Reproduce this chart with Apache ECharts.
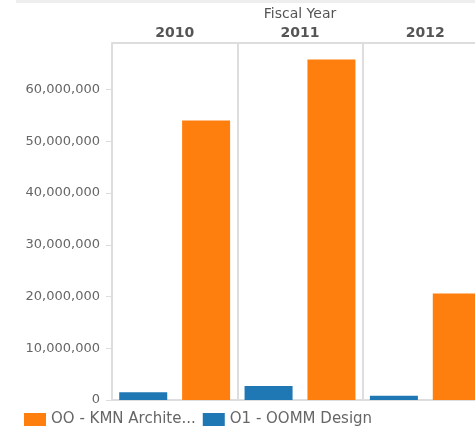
<!DOCTYPE html>
<html lang="en">
<head>
<meta charset="UTF-8">
<title>Fiscal Year</title>
<script src="https://cdnjs.cloudflare.com/ajax/libs/echarts/6.0.0/echarts.min.js"></script>
<style>
    html, body { margin: 0; padding: 0; background: #fff; overflow: hidden; }
    #box { width: 475px; height: 426px; }
</style>
</head>
<body>
<div id="box"></div>
<script>
    var years = ['2010', '2011', '2012'];
    var kmnName = 'OO - KMN Architects';
    var oommName = 'O1 - OOMM Design';
    var kmnValues = [54000000, 65800000, 20600000];
    var oommValues = [1500000, 2700000, 800000];
    var yTicks = [0, 10000000, 20000000, 30000000, 40000000, 50000000, 60000000];

    var myChart = echarts.init(document.getElementById('box'));
    var font = 'DejaVu Sans';
    var lineColor = '#dddddd';

    var option = {
        animation: false,
        color: ['#1f77b4', '#ff7f0e'],
        graphic: [
            { type: 'rect', left: 16, top: 0, shape: { width: 460, height: 3 }, style: { fill: '#eeeeee' } }
        ],
        legend: {
            data: [kmnName, oommName],
            left: 19,
            top: 407,
            itemWidth: 22,
            itemHeight: 13,
            itemGap: 7,
            icon: 'rect',
            formatter: function (name) {
                return name.length > 16 ? name.slice(0, 16) + '...' : name;
            },
            textStyle: { fontFamily: font, fontSize: 15, color: '#666' }
        },
        // last panel runs past the right edge like the reference
        grid: { left: 112, top: 43, right: -13, bottom: 26, outerBoundsMode: 'none' },
        xAxis: [
            {
                type: 'category',
                data: years,
                axisLine: { lineStyle: { color: lineColor, width: 2 } },
                axisTick: { show: false },
                axisLabel: { show: false },
                splitLine: { show: true, lineStyle: { color: lineColor, width: 2 } }
            },
            {
                type: 'category',
                data: years,
                position: 'top',
                name: 'Fiscal Year',
                nameLocation: 'middle',
                nameGap: 22,
                nameTextStyle: { fontFamily: font, fontSize: 14, color: '#555' },
                axisLine: { lineStyle: { color: lineColor, width: 2 } },
                axisTick: { length: 21, lineStyle: { color: lineColor, width: 2 } },
                axisLabel: { margin: 3, fontFamily: font, fontSize: 14, fontWeight: 'bold', color: '#555' }
            }
        ],
        yAxis: {
            type: 'value',
            min: 0,
            max: 69000000,
            interval: 10000000,
            axisLine: { show: true, lineStyle: { color: lineColor } },
            axisTick: { show: true, length: 6, lineStyle: { color: lineColor } },
            splitLine: { show: false },
            axisLabel: {
                margin: 12,
                showMaxLabel: false,
                fontFamily: font,
                fontSize: 13,
                color: '#666',
                formatter: function (v) {
                    return yTicks.indexOf(v) >= 0 ? v.toLocaleString('en-US') : '';
                }
            }
        },
        series: [
            { name: oommName, type: 'bar', xAxisIndex: 0, barWidth: 48, barGap: '31%', data: oommValues },
            { name: kmnName, type: 'bar', xAxisIndex: 0, barWidth: 48, barGap: '31%', data: kmnValues }
        ]
    };

    myChart.setOption(option);
</script>
</body>
</html>
